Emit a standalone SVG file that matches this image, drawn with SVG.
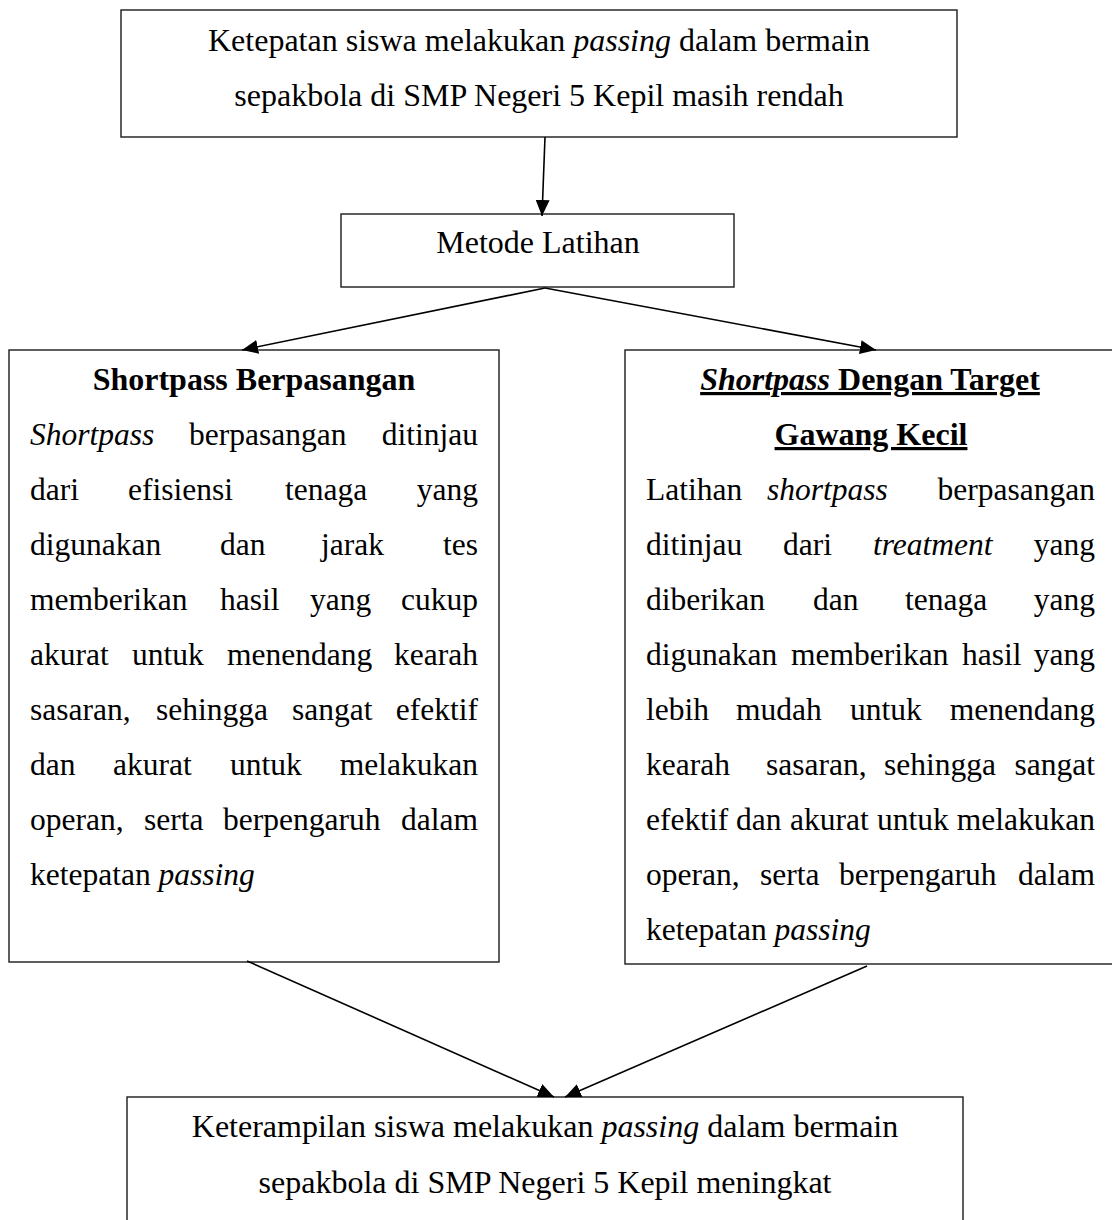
<svg xmlns="http://www.w3.org/2000/svg" width="1112" height="1220" viewBox="0 0 1112 1220">
<style>
  .box { fill: #fff; stroke: #1a1a1a; stroke-width: 1.4; }
  .t { font-family: "Liberation Serif", "Times New Roman", serif; font-size: 32px; fill: #000; }
  .b { font-family: "Liberation Serif", "Times New Roman", serif; font-size: 31.5px; fill: #000; }
  .bold { font-weight: bold; font-size: 32px; }
  .i { font-style: italic; }
  .mid { text-anchor: middle; }
  .end { text-anchor: end; }
  .u { text-decoration: underline; }
  .conn { stroke: #000; stroke-width: 1.6; fill: none; marker-end: url(#arrow); }
</style>
<defs>
  <marker id="arrow" markerUnits="userSpaceOnUse" markerWidth="16" markerHeight="14" refX="16" refY="7" orient="auto">
    <path d="M0,0 L16,7 L0,14 z" fill="#000"/>
  </marker>
</defs>
<rect width="1112" height="1220" fill="#fff"/>

<g id="node-top">
  <rect class="box" x="121" y="10" width="836" height="127"/>
  <text class="t mid" x="539" y="51">Ketepatan siswa melakukan <tspan class="i">passing</tspan> dalam bermain</text>
  <text class="t mid" x="539" y="106">sepakbola di SMP Negeri 5 Kepil masih rendah</text>
</g>

<g id="node-metode">
  <rect class="box" x="341" y="214" width="393" height="73"/>
  <text class="t mid" x="538" y="253">Metode Latihan</text>
</g>

<g id="node-left">
  <rect class="box" x="9" y="350" width="490" height="612"/>
  <text class="b bold mid" x="254" y="390">Shortpass Berpasangan</text>
  <text class="b" y="445"><tspan class="i" x="30">Shortpass</tspan><tspan x="189">berpasangan</tspan></text>
  <text class="b end" x="478" y="445">ditinjau</text>
  <text class="b" y="500"><tspan x="30">dari</tspan><tspan x="128">efisiensi</tspan><tspan x="285">tenaga</tspan></text>
  <text class="b end" x="478" y="500">yang</text>
  <text class="b" y="555"><tspan x="30">digunakan</tspan><tspan x="220">dan</tspan><tspan x="321">jarak</tspan></text>
  <text class="b end" x="478" y="555">tes</text>
  <text class="b" y="610"><tspan x="30">memberikan</tspan><tspan x="220">hasil</tspan><tspan x="310">yang</tspan></text>
  <text class="b end" x="478" y="610">cukup</text>
  <text class="b" y="665"><tspan x="30">akurat</tspan><tspan x="132">untuk</tspan><tspan x="227">menendang</tspan></text>
  <text class="b end" x="478" y="665">kearah</text>
  <text class="b" y="720"><tspan x="30">sasaran,</tspan><tspan x="156">sehingga</tspan><tspan x="292">sangat</tspan></text>
  <text class="b end" x="478" y="720">efektif</text>
  <text class="b" y="775"><tspan x="30">dan</tspan><tspan x="113">akurat</tspan><tspan x="230">untuk</tspan></text>
  <text class="b end" x="478" y="775">melakukan</text>
  <text class="b" y="830"><tspan x="30">operan,</tspan><tspan x="144">serta</tspan><tspan x="223">berpengaruh</tspan></text>
  <text class="b end" x="478" y="830">dalam</text>
  <text class="b" x="30" y="885">ketepatan <tspan class="i">passing</tspan></text>
</g>

<g id="node-right">
  <rect class="box" x="625" y="350" width="492" height="614"/>
  <text class="b bold mid u" x="870" y="390"><tspan class="i">Shortpass</tspan> Dengan Target</text>
  <text class="b bold mid u" x="871" y="445">Gawang Kecil</text>
  <text class="b" y="500"><tspan x="646">Latihan</tspan><tspan class="i" x="767">shortpass</tspan></text>
  <text class="b end" x="1095" y="500">berpasangan</text>
  <text class="b" y="555"><tspan x="646">ditinjau</tspan><tspan x="783">dari</tspan><tspan class="i" x="873">treatment</tspan></text>
  <text class="b end" x="1095" y="555">yang</text>
  <text class="b" y="610"><tspan x="646">diberikan</tspan><tspan x="813">dan</tspan><tspan x="905">tenaga</tspan></text>
  <text class="b end" x="1095" y="610">yang</text>
  <text class="b" y="665"><tspan x="646">digunakan</tspan><tspan x="791">memberikan</tspan><tspan x="962">hasil</tspan></text>
  <text class="b end" x="1095" y="665">yang</text>
  <text class="b" y="720"><tspan x="646">lebih</tspan><tspan x="736">mudah</tspan><tspan x="850">untuk</tspan></text>
  <text class="b end" x="1095" y="720">menendang</text>
  <text class="b" y="775"><tspan x="646">kearah</tspan><tspan x="766">sasaran,</tspan><tspan x="884">sehingga</tspan></text>
  <text class="b end" x="1095" y="775">sangat</text>
  <text class="b" y="830"><tspan x="646">efektif</tspan><tspan x="736">dan</tspan><tspan x="790">akurat</tspan><tspan x="877">untuk</tspan></text>
  <text class="b end" x="1095" y="830">melakukan</text>
  <text class="b" y="885"><tspan x="646">operan,</tspan><tspan x="760">serta</tspan><tspan x="839">berpengaruh</tspan></text>
  <text class="b end" x="1095" y="885">dalam</text>
  <text class="b" x="646" y="940">ketepatan <tspan class="i">passing</tspan></text>
</g>

<g id="node-bottom">
  <rect class="box" x="127" y="1097" width="836" height="140"/>
  <text class="t mid" x="545" y="1137">Keterampilan siswa melakukan <tspan class="i">passing</tspan> dalam bermain</text>
  <text class="t mid" x="545" y="1193">sepakbola di SMP Negeri 5 Kepil meningkat</text>
</g>

<g id="connectors">
  <line class="conn" x1="545" y1="137" x2="542" y2="216"/>
  <line class="conn" x1="545" y1="288" x2="242" y2="350"/>
  <line class="conn" x1="545" y1="288" x2="876" y2="350"/>
  <line class="conn" x1="247" y1="961" x2="554" y2="1097"/>
  <line class="conn" x1="867" y1="966" x2="565" y2="1097"/>
</g>
</svg>
